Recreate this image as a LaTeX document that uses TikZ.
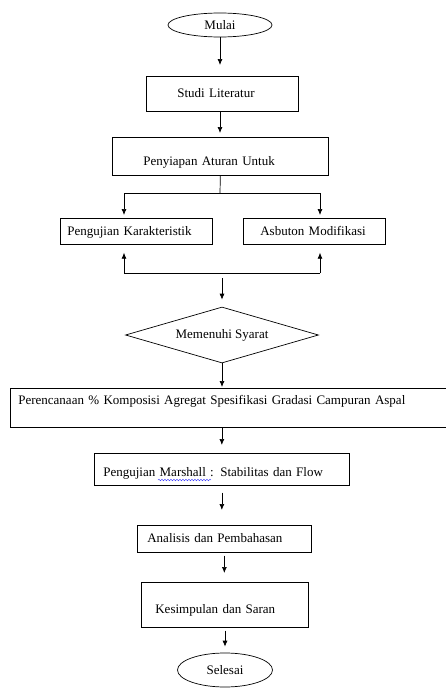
\documentclass[tikz,border=0pt]{standalone}
\usepackage{fontspec}
\setmainfont{Liberation Serif}
\usetikzlibrary{arrows.meta,shapes.geometric,decorations.pathmorphing}

\tikzset{
  flowbox/.style={draw, rectangle, inner ysep=0pt, align=left, anchor=north west},
  terminal/.style={draw, ellipse, inner sep=0pt},
  decision/.style={draw, diamond, aspect=3.5, inner sep=0pt},
  spellwave/.style={blue!80, line width=0.4pt, decorate, decoration={snake, amplitude=0.8pt, segment length=3pt}},
}

\begin{document}
\begin{tikzpicture}[x=1pt, y=-1pt, line width=0.7pt, >={Latex[length=6pt,width=5pt]},
  every node/.append style={font=\fontsize{13}{15}\selectfont}]

  \useasboundingbox (0,0) rectangle (446,688);

  % ==========================================
  % BAGIAN 1 : MULAI SAMPAI PENYIAPAN
  % ==========================================
  \node[terminal, minimum width=104pt, minimum height=24pt] (mulai) at (220,25) {Mulai};
  \node[flowbox, inner xsep=31pt, text width=90pt, text height=21pt, text depth=14pt] (studi) at (146,76) {Studi Literatur};
  \node[flowbox, inner xsep=31pt, text width=154pt, text height=28pt, text depth=10pt] (siap) at (112,137) {Penyiapan Aturan Untuk};

  \draw[->, shorten >=11pt] (mulai.south) -- (mulai.south |- studi.north);
  \draw[->, shorten >=4pt] (mulai.south |- studi.south) -- (mulai.south |- siap.north);

  % ==========================================
  % BAGIAN 2 : DUA PENGUJIAN (CABANG)
  % ==========================================
  \node[flowbox, inner xsep=7pt, text width=138pt, text height=17pt, text depth=9pt] (karak) at (60,218) {Pengujian Karakteristik};
  \node[flowbox, inner xsep=17pt, text width=108pt, text height=17pt, text depth=9pt] (asbuton) at (243,218) {Asbuton Modifikasi};

  % titik percabangan
  \coordinate (pisah) at (220,193);
  \coordinate (pisahL) at (124,193);
  \coordinate (pisahR) at (320,193);
  \draw (siap.south) -- (pisah);
  \draw (pisahL) -- (pisahR);
  \draw[->, shorten >=3pt] (pisahL) -- (pisahL |- karak.north);
  \draw[->, shorten >=3pt] (pisahR) -- (pisahR |- asbuton.north);

  % titik penggabungan
  \coordinate (gabung) at (222,273);
  \coordinate (gabungL) at (124,273);
  \coordinate (gabungR) at (320,273);
  \draw (gabungL) -- (gabungR);
  \draw[->, shorten >=8pt] (gabungL) -- (gabungL |- karak.south);
  \draw[->, shorten >=8pt] (gabungR) -- (gabungR |- asbuton.south);

  % ==========================================
  % BAGIAN 3 : SYARAT SAMPAI SELESAI
  % ==========================================
  \node[decision, minimum width=193pt, minimum height=56pt] (syarat) at (222,335) {Memenuhi Syarat};
  \node[flowbox, inner xsep=8pt, text width=440pt, text height=16pt, text depth=23pt] (rencana) at (10,388) {Perencanaan \% Komposisi Agregat Spesifikasi Gradasi Campuran Aspal};
  \node[flowbox, inner xsep=9pt, text width=237pt, text height=23pt, text depth=9pt] (marshall) at (94,453) {Pengujian Marshall : Stabilitas dan Flow};
  \node[flowbox, inner xsep=10pt, text width=154pt, text height=17pt, text depth=10pt] (analisis) at (137,525) {Analisis dan Pembahasan};
  \node[flowbox, inner xsep=14pt, text width=139pt, text height=31pt, text depth=14pt] (simpul) at (141,582) {Kesimpulan dan Saran};
  \node[terminal, minimum width=95pt, minimum height=34pt] (selesai) at (225,670) {Selesai};

  % garis ejaan di bawah "Marshall :"
  \draw[spellwave] ([xshift=64pt, yshift=-27pt]marshall.north west) -- ++(53,0);

  \draw[->, shorten <=5pt, shorten >=7pt] (gabung) -- (syarat.north);
  \draw[->, shorten >=1pt] (syarat.south) -- (syarat.south |- rencana.north);
  \draw[->, shorten >=8pt] (marshall.north |- rencana.south) -- (marshall.north);
  \draw[->, shorten <=7pt, shorten >=15pt] (marshall.south) -- (marshall.south |- analisis.north);
  \draw[->, shorten <=3pt, shorten >=9pt] (analisis.south) -- (analisis.south |- simpul.north);
  \draw[->, shorten <=3pt, shorten >=6pt] (selesai.north |- simpul.south) -- (selesai.north);

\end{tikzpicture}
\end{document}
